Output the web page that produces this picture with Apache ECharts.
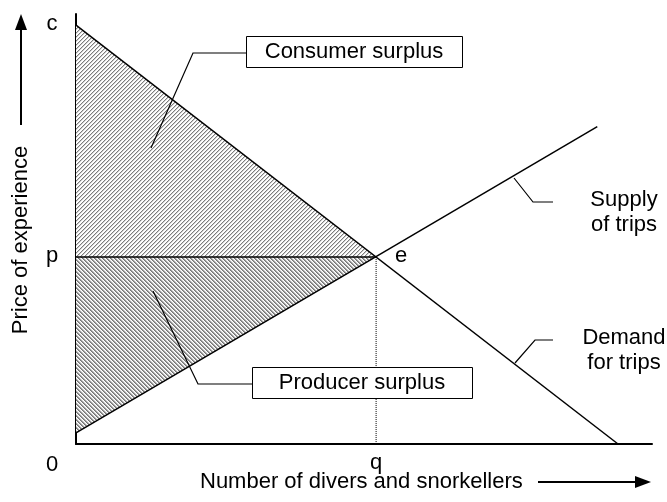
<!DOCTYPE html>
<html>
<head>
<meta charset="utf-8">
<script src="https://cdn.jsdelivr.net/npm/echarts@6/dist/echarts.min.js"></script>
<style>html,body{margin:0;padding:0;background:#fff}#main{width:667px;height:502px}</style>
</head>
<body>
<div id="main"></div>
<script>
// ---- data (chart units 0..100 on both axes) ----
var priceC = 97.4;      // choke price "c"
var priceP = 43.5;      // equilibrium price "p"
var quantQ = 52.1;      // equilibrium quantity "q"
var demandPoints = [[0, 97.4], [94.1, 0]];
var supplyPoints = [[0, 2.6], [90.5, 73.8]];
var consumerSurplus = [[0, 97.4], [52.1, 43.5], [0, 43.5]];
var producerSurplus = [[0, 43.5], [52.1, 43.5], [0, 2.6]];
var priceLine = [[0, 43.5], [52.1, 43.5]];
var quantLine = [[52.1, 43.5], [52.1, 0]];
var axisLabels = ['c', 'p', '0', 'q', 'e'];
var titles = ['Price of experience', 'Number of divers and snorkellers'];
var boxLabels = ['Consumer surplus', 'Producer surplus'];
var curveLabels = ['Supply\nof trips', 'Demand\nfor trips'];

function makeHatch(dir, colors) {
  var n = colors.length, c = document.createElement('canvas');
  c.width = n; c.height = n;
  var ctx = c.getContext('2d');
  ctx.fillStyle = '#fff'; ctx.fillRect(0, 0, n, n);
  for (var x = 0; x < n; x++) for (var y = 0; y < n; y++) {
    var k = dir > 0 ? (x + y) % n : ((x - y) % n + n) % n;
    if (colors[k]) { ctx.fillStyle = colors[k]; ctx.fillRect(x, y, 1, 1); }
  }
  return { type: 'pattern', image: c, repeat: 'repeat' };
}
var hatchCS = makeHatch(1, ['#7c7c7c', '#d2d2d2', null, null]);
var hatchPS = makeHatch(-1, ['#767676', '#9a9a9a', '#e0e0e0', null]);

var FONT = 'Arial, "Liberation Sans", sans-serif';
var FS = 22;

function polySeries(pts, fill) {
  return {
    type: 'custom', coordinateSystem: 'cartesian2d', z: 1,
    data: [0], silent: true,
    renderItem: function (params, api) {
      return { type: 'polygon', shape: { points: pts.map(function (p) { return api.coord(p); }) },
               style: { fill: fill, stroke: null } };
    }
  };
}
function lineSeries(data, width, type) {
  return { type: 'line', data: data, showSymbol: false, silent: true, z: 3,
           lineStyle: { color: '#000', width: width, type: type || 'solid' } };
}
function txt(x, y, s, align, extra) {
  var o = { type: 'text', x: x, y: y, z: 20,
    style: { text: s, fill: '#000', font: FS + 'px ' + FONT, textAlign: align || 'center', textVerticalAlign: 'middle' } };
  if (extra) for (var k in extra) o[k] = extra[k];
  return o;
}
function poly(points) {
  return { type: 'polyline', z: 20, shape: { points: points }, style: { stroke: '#000', lineWidth: 1.2, fill: null } };
}

var chart = echarts.init(document.getElementById('main'), null, { renderer: 'canvas' });
chart.setOption({
  animation: false,
  backgroundColor: '#fff',
  grid: { left: 76, right: 15, top: 14, bottom: 58 },
  xAxis: { type: 'value', min: 0, max: 100, axisLine: { lineStyle: { color: '#000', width: 2 } },
           axisTick: { show: false }, axisLabel: { show: false }, splitLine: { show: false } },
  yAxis: { type: 'value', min: 0, max: 100, axisLine: { show: true, lineStyle: { color: '#000', width: 2 } },
           axisTick: { show: false }, axisLabel: { show: false }, splitLine: { show: false } },
  series: [
    polySeries(consumerSurplus, hatchCS),
    polySeries(producerSurplus, hatchPS),
    lineSeries(demandPoints, 1.5),
    lineSeries(supplyPoints, 1.5),
    lineSeries(priceLine, 1.5),
    lineSeries(quantLine, 1, 'dotted')
  ],
  graphic: [
    // axis end labels
    txt(52, 24, axisLabels[0]),
    txt(52, 256, axisLabels[1]),
    txt(52, 465, axisLabels[2]),
    txt(376, 463, axisLabels[3]),
    txt(401, 256, axisLabels[4]),
    // y title + arrow
    txt(21, 240, titles[0], 'center', { rotation: Math.PI / 2 }),
    { type: 'line', z: 20, shape: { x1: 21, y1: 125, x2: 21, y2: 28 }, style: { stroke: '#000', lineWidth: 2 } },
    { type: 'polygon', z: 20, shape: { points: [[15, 30], [27, 30], [21, 14]] }, style: { fill: '#000' } },
    // x title + arrow
    txt(200, 482, titles[1], 'left'),
    { type: 'line', z: 20, shape: { x1: 538, y1: 482, x2: 638, y2: 482 }, style: { stroke: '#000', lineWidth: 2 } },
    { type: 'polygon', z: 20, shape: { points: [[635, 476], [635, 488], [651, 482]] }, style: { fill: '#000' } },
    // consumer surplus box
    poly([[246, 53], [193, 53], [151, 148]]),
    { type: 'rect', z: 21, shape: { x: 246.5, y: 36.5, width: 216, height: 31 }, style: { fill: '#fff', stroke: '#000', lineWidth: 1 } },
    txt(354, 52, boxLabels[0], 'center', { z: 22 }),
    // producer surplus box
    poly([[252, 384], [198, 384], [153, 291]]),
    { type: 'rect', z: 21, shape: { x: 252.5, y: 367.5, width: 220, height: 31 }, style: { fill: '#fff', stroke: '#000', lineWidth: 1 } },
    txt(362, 383, boxLabels[1], 'center', { z: 22 }),
    // supply / demand labels
    poly([[514, 178], [533, 202], [553, 202]]),
    { type: 'text', x: 624, y: 212, z: 20, style: { text: curveLabels[0], fill: '#000', font: FS + 'px ' + FONT, textAlign: 'center', textVerticalAlign: 'middle', lineHeight: 25 } },
    poly([[515, 363], [535, 340], [553, 340]]),
    { type: 'text', x: 624, y: 350, z: 20, style: { text: curveLabels[1], fill: '#000', font: FS + 'px ' + FONT, textAlign: 'center', textVerticalAlign: 'middle', lineHeight: 25 } }
  ]
});
</script>
</body>
</html>
